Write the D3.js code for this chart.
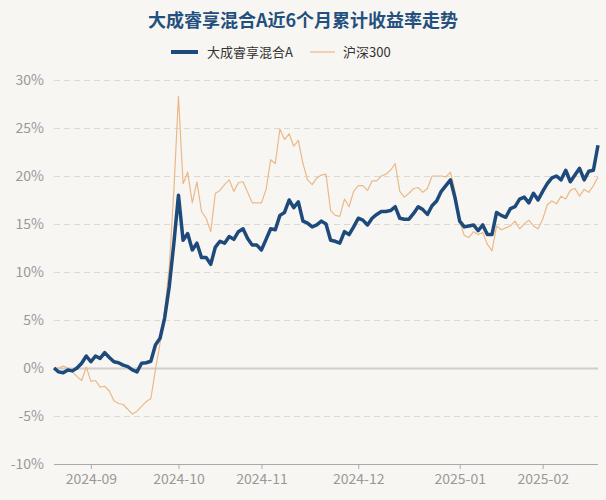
<!DOCTYPE html>
<html><head><meta charset="utf-8">
<script src="https://cdn.jsdelivr.net/npm/d3@7"></script>
<style>
html,body{margin:0;padding:0;background:#f8f6f2;}
svg{display:block;font-family:"Noto Sans CJK SC","Noto Sans",sans-serif;}
</style></head>
<body>
<svg id="chart" width="606" height="500"></svg>
<script>
const title = "大成睿享混合A近6个月累计收益率走势";
const seriesNames = ["大成睿享混合A", "沪深300"];
const dates = [
"2024-08-21","2024-08-22","2024-08-23","2024-08-26","2024-08-27","2024-08-28","2024-08-29","2024-08-30",
"2024-09-02","2024-09-03","2024-09-04","2024-09-05","2024-09-06","2024-09-09","2024-09-10","2024-09-11","2024-09-12","2024-09-13","2024-09-18","2024-09-19","2024-09-20","2024-09-23","2024-09-24","2024-09-25","2024-09-26","2024-09-27","2024-09-30",
"2024-10-08","2024-10-09","2024-10-10","2024-10-11","2024-10-14","2024-10-15","2024-10-16","2024-10-17","2024-10-18","2024-10-21","2024-10-22","2024-10-23","2024-10-24","2024-10-25","2024-10-28","2024-10-29","2024-10-30","2024-10-31",
"2024-11-01","2024-11-04","2024-11-05","2024-11-06","2024-11-07","2024-11-08","2024-11-11","2024-11-12","2024-11-13","2024-11-14","2024-11-15","2024-11-18","2024-11-19","2024-11-20","2024-11-21","2024-11-22","2024-11-25","2024-11-26","2024-11-27","2024-11-28","2024-11-29",
"2024-12-02","2024-12-03","2024-12-04","2024-12-05","2024-12-06","2024-12-09","2024-12-10","2024-12-11","2024-12-12","2024-12-13","2024-12-16","2024-12-17","2024-12-18","2024-12-19","2024-12-20","2024-12-23","2024-12-24","2024-12-25","2024-12-26","2024-12-27","2024-12-30","2024-12-31",
"2025-01-02","2025-01-03","2025-01-06","2025-01-07","2025-01-08","2025-01-09","2025-01-10","2025-01-13","2025-01-14","2025-01-15","2025-01-16","2025-01-17","2025-01-20","2025-01-21","2025-01-22","2025-01-23","2025-01-24","2025-01-27",
"2025-02-05","2025-02-06","2025-02-07","2025-02-10","2025-02-11","2025-02-12","2025-02-13","2025-02-14","2025-02-17","2025-02-18","2025-02-19","2025-02-20","2025-02-21"
];
const fundValues = [
0.0,-0.4,-0.5,-0.2,-0.3,0.0,0.5,1.25,0.65,1.25,1.0,1.6,1.1,0.65,0.55,0.3,0.15,-0.2,-0.4,0.5,0.55,0.7,2.4,3.1,
5.2,8.5,13.0,18.0,13.3,14.0,12.3,13.0,11.5,11.5,10.8,12.6,13.2,13.0,13.7,13.4,14.2,
14.5,13.5,12.8,12.8,12.3,13.4,14.5,14.4,15.9,16.2,17.5,16.7,17.3,15.3,15.1,14.7,14.9,15.3,15.0,13.3,13.2,13.0,14.2,
13.9,14.7,15.6,15.4,14.9,15.6,16.0,16.3,16.3,16.4,16.8,15.6,15.5,15.5,16.1,16.8,16.5,16.0,16.9,17.4,18.4,19.0,19.6,17.7,
15.3,14.7,14.8,14.9,14.3,14.9,13.9,13.9,16.2,15.9,15.7,16.6,16.8,17.6,17.8,17.2,18.2,17.5,18.4,19.2,19.8,20.0,19.6,20.6,19.4,20.1,20.8,19.6,20.5,20.6,23.2
];
const indexValues = [
0.0,0.0,0.2,0.0,-0.4,-0.9,-1.3,0.1,-1.4,-1.3,-2.0,-1.9,-2.4,-3.4,-3.7,-3.8,-4.3,-4.8,-4.5,-4.0,-3.5,-3.2,-0.2,2.6,
6.0,10.5,18.5,28.3,19.2,20.4,17.2,19.4,16.3,15.6,14.2,18.2,18.5,19.1,19.6,18.4,19.3,
19.4,18.3,17.2,17.2,17.2,18.6,21.7,21.3,24.9,23.8,24.4,23.1,23.7,21.3,19.6,19.1,19.8,20.1,20.2,16.4,15.9,15.8,17.6,
16.8,18.4,19.0,19.0,18.5,19.5,19.5,20.0,20.2,20.6,21.3,18.4,17.8,18.2,18.7,18.8,18.3,18.7,20.0,20.0,20.0,19.9,20.4,18.4,
15.3,13.8,13.6,14.2,13.9,14.1,12.9,12.2,14.8,14.4,14.6,14.8,15.3,14.5,15.0,15.4,14.8,14.5,15.5,17.0,17.4,17.1,17.9,17.6,18.5,18.7,17.9,18.6,18.3,19.0,19.9
];
const yTicks = [-10,-5,0,5,10,15,20,25,30];
const monthLabels = ["2024-09","2024-10","2024-11","2024-12","2025-01","2025-02"];

const svg = d3.select("#chart");
const M = {left:54, right:598, top:80, bottom:464};
const x = d3.scalePoint().domain(dates).range([M.left, M.right]);
const y = d3.scaleLinear().domain([-10,30]).range([M.bottom, M.top]);

// title
svg.append("text").attr("x",303).attr("y",27).attr("text-anchor","middle")
  .attr("font-size",18).attr("font-weight","bold").attr("fill","#24507e").text(title);

// legend
const lg = svg.append("g");
lg.append("line").attr("x1",171).attr("x2",198).attr("y1",52).attr("y2",52)
  .attr("stroke","#1d4a7a").attr("stroke-width",4);
lg.append("text").attr("x",207).attr("y",57).attr("font-size",13).attr("fill","#333").text(seriesNames[0]);
lg.append("line").attr("x1",310).attr("x2",335).attr("y1",52).attr("y2",52)
  .attr("stroke","#eab98a").attr("stroke-width",1.2);
lg.append("text").attr("x",343).attr("y",57).attr("font-size",13).attr("fill","#333").text(seriesNames[1]);

// grid
const yAxis = d3.axisLeft(y).tickValues(yTicks).tickFormat(d => d + "%")
  .tickSize(-(M.right - M.left)).tickPadding(10);
const gy = svg.append("g").attr("transform",`translate(${M.left},0)`).call(yAxis);
gy.select(".domain").remove();
gy.selectAll(".tick line").attr("stroke","#dcd9d4").attr("stroke-dasharray","6,4").attr("stroke-width",1);
gy.selectAll(".tick").filter(d => d === 0).select("line")
  .attr("stroke","#d2cec9").attr("stroke-dasharray",null).attr("stroke-width",2);
gy.selectAll(".tick").filter(d => d === -10).select("line").remove();
gy.selectAll(".tick text").attr("font-size",14).attr("fill","#999")
  .attr("font-family","'Noto Sans CJK SC','Noto Sans',sans-serif");

// x axis
const firstOfMonth = monthLabels.map(m => dates.find(d => d.startsWith(m)));
const xAxis = d3.axisBottom(x).tickValues(firstOfMonth).tickFormat(d => d.slice(0,7))
  .tickSize(5).tickSizeOuter(0).tickPadding(5);
const gx = svg.append("g").attr("transform",`translate(0,${M.bottom})`).call(xAxis);
gx.select(".domain").attr("stroke","#aaa").attr("d",`M${M.left},0.5H${M.right}`);
gx.selectAll(".tick line").attr("stroke","#aaa");
gx.selectAll(".tick text").attr("font-size",14).attr("fill","#999")
  .attr("font-family","'Noto Sans CJK SC','Noto Sans',sans-serif");

// lines
const line = d3.line().x((d,i) => x(dates[i])).y(d => y(d));
svg.append("path").datum(indexValues).attr("d",line).attr("fill","none")
  .attr("stroke","#eab98a").attr("stroke-width",1.2).attr("stroke-linejoin","round");
svg.append("path").datum(fundValues).attr("d",line).attr("fill","none")
  .attr("stroke","#1d4a7a").attr("stroke-width",3.5).attr("stroke-linejoin","round");
</script>
</body></html>
